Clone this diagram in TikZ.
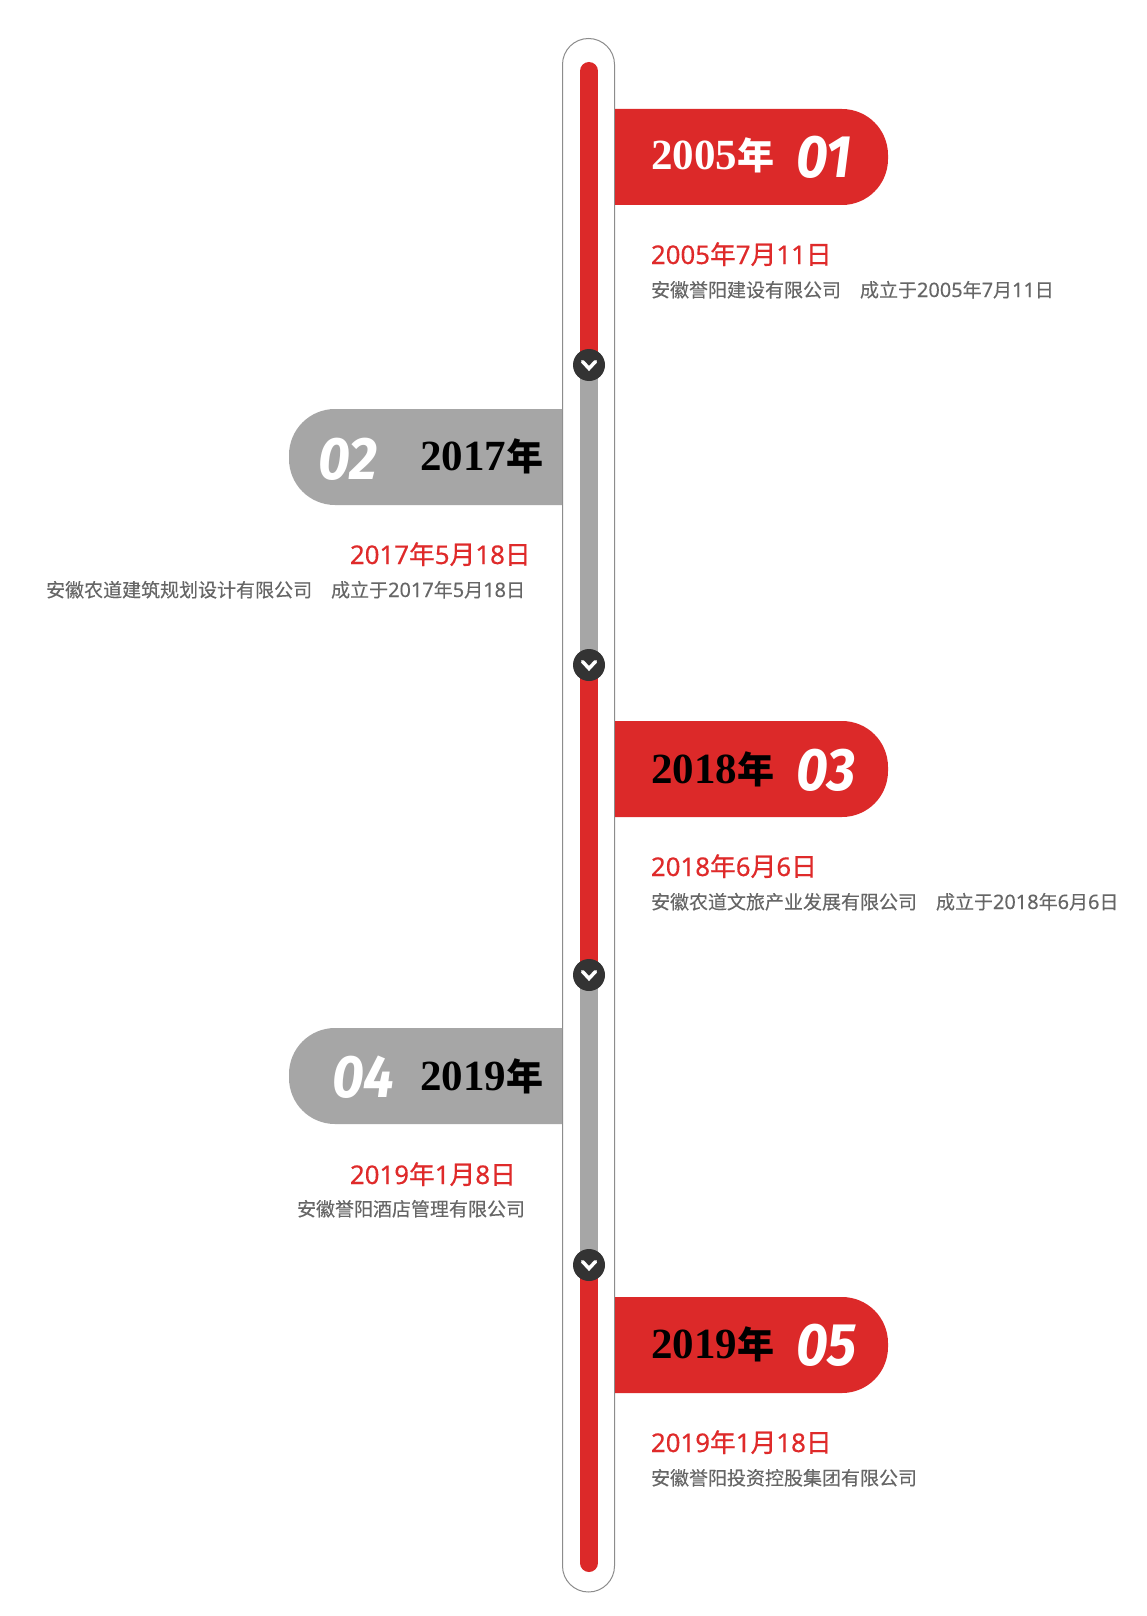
\documentclass[tikz,border=0pt]{standalone}
\usepackage{fontspec}
\usepackage{xcolor}
\setmainfont{Liberation Serif}
\newfontfamily\cjkfont{Noto Sans CJK SC}
\newfontfamily\datefont[FakeBold=0.6]{Noto Sans CJK SC}
\newfontfamily\subfont[FakeBold=0.2]{Noto Sans CJK SC}
\newfontfamily\datedigits[Scale=1.0,FakeBold=0.4]{Noto Sans}
\newfontfamily\subdigits[Scale=1.05,FakeBold=0.1]{Noto Sans}
\newfontfamily\numfont[FakeStretch=0.92]{Fira Sans}
\definecolor{flagred}{HTML}{DC2929}
\definecolor{flaggray}{HTML}{A6A6A6}
\definecolor{knobdark}{HTML}{333333}
\definecolor{datered}{HTML}{DF2A2A}
\definecolor{subgray}{HTML}{666666}
\tikzset{
    every node/.style={inner sep=0pt, outer sep=0pt},
    yearlabel/.style={font=\fontsize{43}{43}\selectfont\bfseries},
    numlabel/.style={font=\fontsize{60}{60}\selectfont\numfont\bfseries\itshape, text=white, anchor=base west},
    datelabel/.style={font=\fontsize{25.8}{26}\selectfont\datefont, text=datered},
    sublabel/.style={font=\fontsize{19}{20}\selectfont\subfont, text=subgray},
    knob/.style={circle, fill=knobdark, minimum size=32pt},
    chevron/.style={white, line width=3.5pt, line cap=round, line join=miter}
}
\newcommand{\yearnian}[1]{#1{\fontsize{37}{37}\selectfont\cjkfont\bfseries 年}}
\newcommand{\dd}[1]{{\datedigits #1}}
\newcommand{\sd}[1]{{\subdigits #1}}
\begin{document}
\begin{tikzpicture}[x=1pt, y=-1pt]
    \useasboundingbox (0,0) rectangle (1147,1616);
    \fill[white] (0,0) rectangle (1147,1616);

    % Tube
    \draw[gray!90, line width=1pt, rounded corners=26pt] (562.5,38.5) rectangle (614.5,1592);

    % Stops along the bar
    \coordinate (bartop) at (589,71);
    \coordinate (barend) at (589,1563);
    \coordinate (stopA) at (589,365);
    \coordinate (stopB) at (589,665);
    \coordinate (stopC) at (589,975);
    \coordinate (stopD) at (589,1265);

    % Bar segments
    \begin{scope}[line width=18pt]
        \draw[flagred, line cap=round] (bartop) -- (stopA);
        \draw[flaggray] (stopA) -- (stopB);
        \draw[flagred] (stopB) -- (stopC);
        \draw[flaggray] (stopC) -- (stopD);
        \draw[flagred, line cap=round] (stopD) -- (barend);
    \end{scope}

    % Knobs
    \node[knob] (knobA) at (stopA) {};
    \node[knob] (knobB) at (stopB) {};
    \node[knob] (knobC) at (stopC) {};
    \node[knob] (knobD) at (stopD) {};
    \foreach \k in {knobA,knobB,knobC,knobD} {
        \draw[chevron] ([xshift=-6.5pt,yshift=3.5pt]\k.center) -- ([yshift=-3.5pt]\k.center) -- ([xshift=6.5pt,yshift=3.5pt]\k.center);
    }

    % Flags
    \fill[flagred] (615,109) [rounded corners=46pt] -- (888,109) -- (888,205) [sharp corners] -- (615,205) -- cycle;
    \fill[flaggray] (562,409) [rounded corners=46pt] -- (289,409) -- (289,505) [sharp corners] -- (562,505) -- cycle;
    \fill[flagred] (615,721) [rounded corners=46pt] -- (888,721) -- (888,817) [sharp corners] -- (615,817) -- cycle;
    \fill[flaggray] (562,1028) [rounded corners=46pt] -- (289,1028) -- (289,1124) [sharp corners] -- (562,1124) -- cycle;
    \fill[flagred] (615,1297) [rounded corners=46pt] -- (888,1297) -- (888,1393) [sharp corners] -- (615,1393) -- cycle;

    % Row 1
    \node[yearlabel, text=white, anchor=base west] (yearA) at (651,170) {\yearnian{2005}};
    \node[numlabel] (numA) at (796,178) {01};
    \node[datelabel, anchor=base west] (dateA) at (651,264) {\dd{2005}年\dd{7}月\dd{11}日};
    \node[sublabel, anchor=base west] (subA) at (651,297) {安徽誉阳建设有限公司　成立于\sd{2005}年\sd{7}月\sd{11}日};

    % Row 2
    \node[yearlabel, text=black, anchor=base east] (yearB) at (543,470) {\yearnian{2017}};
    \node[numlabel] (numB) at (318,479) {02};
    \node[datelabel, anchor=base west] (dateB) at (350,564) {\dd{2017}年\dd{5}月\dd{18}日};
    \node[sublabel, anchor=base east] (subB) at (525,597) {安徽农道建筑规划设计有限公司　成立于\sd{2017}年\sd{5}月\sd{18}日};

    % Row 3
    \node[yearlabel, text=black, anchor=base west] (yearC) at (651,783) {\yearnian{2018}};
    \node[numlabel] (numC) at (796,790) {03};
    \node[datelabel, anchor=base west] (dateC) at (651,876) {\dd{2018}年\dd{6}月\dd{6}日};
    \node[sublabel, anchor=base west] (subC) at (651,909) {安徽农道文旅产业发展有限公司　成立于\sd{2018}年\sd{6}月\sd{6}日};

    % Row 4
    \node[yearlabel, text=black, anchor=base east] (yearD) at (543,1090) {\yearnian{2019}};
    \node[numlabel] (numD) at (332,1097) {04};
    \node[datelabel, anchor=base west] (dateD) at (350,1184) {\dd{2019}年\dd{1}月\dd{8}日};
    \node[sublabel, anchor=base east] (subD) at (525,1216) {安徽誉阳酒店管理有限公司};

    % Row 5
    \node[yearlabel, text=black, anchor=base west] (yearE) at (651,1358) {\yearnian{2019}};
    \node[numlabel] (numE) at (796,1365) {05};
    \node[datelabel, anchor=base west] (dateE) at (651,1452) {\dd{2019}年\dd{1}月\dd{18}日};
    \node[sublabel, anchor=base west] (subE) at (651,1485) {安徽誉阳投资控股集团有限公司};
\end{tikzpicture}
\end{document}
